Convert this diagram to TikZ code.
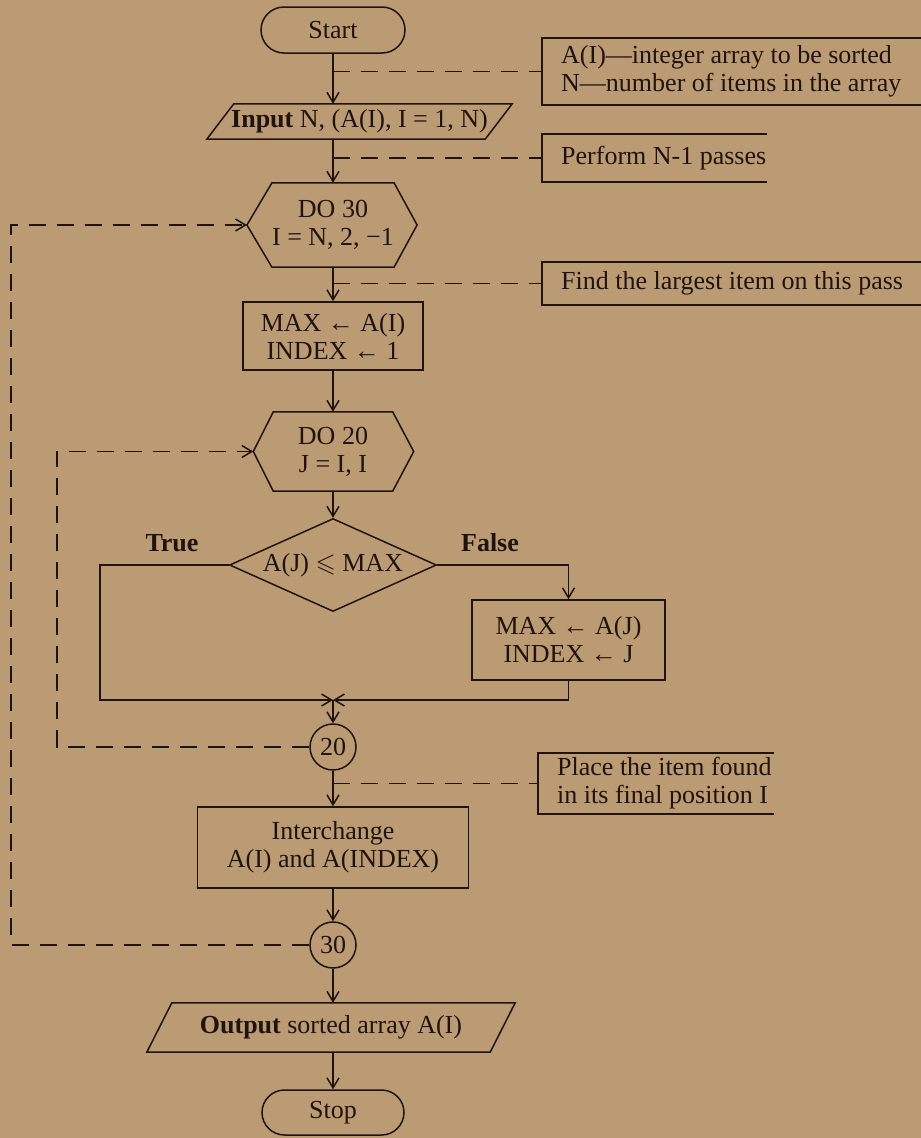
\documentclass[tikz,border=0pt]{standalone}
\usepackage{amssymb}
\usepackage{fontspec}
\setmainfont{Liberation Serif}
\usetikzlibrary{arrows.meta,shapes.misc,shapes.geometric}
\definecolor{paper}{RGB}{187,155,116}
\definecolor{ink}{RGB}{32,18,12}
\begin{document}
\begin{tikzpicture}[x=1pt,y=-1pt,
  every node/.style={font=\fontsize{26}{28}\selectfont, text=ink},
  inkline/.style={draw=ink, line width=1.5pt},
  flow/.style={inkline, -{Straight Barb[length=10pt,width=12pt]}},
  dsh/.style={draw=ink, line width=1.5pt, dash pattern=on 17pt off 11pt},
  dsharrow/.style={dsh, -{Straight Barb[length=10pt,width=12pt]}},
  term/.style={rounded rectangle, inkline, minimum width=144pt, minimum height=46pt, inner sep=0pt},
  proc/.style={rectangle, inkline, inner sep=0pt, align=center},
  plain/.style={rectangle, inner sep=0pt, align=center},
  conn/.style={circle, inkline, minimum size=46pt, inner sep=0pt},
  note/.style={rectangle, inner xsep=19pt, inner ysep=0pt, anchor=west, align=left},
  lbl/.style={font=\fontsize{26}{28}\selectfont\bfseries},
]
% page
\fill[paper] (0,0) rectangle (921,1138);
\useasboundingbox (0,0) rectangle (921,1138);

% main column
\node[term] (start) at (333,30) {Start};
\node[plain, minimum width=278pt, minimum height=35pt] (in) at (359.5,121.5) {\textbf{Input} N, (A(I), I = 1, N)};
\draw[inkline] ([xshift=13.5pt]in.north west) -- ([xshift=13.5pt]in.north east)
  -- ([xshift=-13.5pt]in.south east) -- ([xshift=-13.5pt]in.south west) -- cycle;

\node[plain, minimum width=115pt, minimum height=84pt] (do30) at (333,225) {DO 30\\I = N, 2, −1};
\draw[inkline] (do30.north west) -- (do30.north east) -- ([xshift=23pt]do30.east)
  -- (do30.south east) -- (do30.south west) -- ([xshift=-25pt]do30.west) -- cycle;
\coordinate (do30L) at ([xshift=-25pt]do30.west);

\node[proc, minimum width=180pt, minimum height=68pt] (max1) at (333,336) {MAX ← A(I)\\INDEX ← 1};

\node[plain, minimum width=119pt, minimum height=79pt] (do20) at (333,451.5) {DO 20\\J = I, I};
\draw[inkline] (do20.north west) -- (do20.north east) -- ([xshift=21pt]do20.east)
  -- (do20.south east) -- (do20.south west) -- ([xshift=-20pt]do20.west) -- cycle;
\coordinate (do20L) at ([xshift=-20pt]do20.west);

\node[diamond, inkline, aspect=2.2, inner sep=0pt, minimum width=207pt, minimum height=93pt] (test) at (333,565) {A(J) $\leqslant$ MAX};
\node[lbl] (tlab) at (172,543) {True};
\node[lbl] (flab) at (490,543) {False};

\node[proc, minimum width=193pt, minimum height=80pt] (max2) at (568.5,640) {MAX ← A(J)\\INDEX ← J};

\coordinate (jn) at (333,700);
\coordinate (tc) at (100,700);
\node[conn] (c20) at (333,747) {20};
\coordinate (in2) at (57,451.5);

\node[proc, minimum width=271pt, minimum height=81pt] (swap) at (333,847.5) {Interchange\\A(I) and A(INDEX)};
\node[conn] (c30) at (333,945) {30};
\coordinate (in1) at (11,225);

\node[plain, minimum width=343pt, minimum height=49pt] (out) at (331,1027.5) {\textbf{Output} sorted array A(I)};
\draw[inkline] ([xshift=12.5pt]out.north west) -- ([xshift=12.5pt]out.north east)
  -- ([xshift=-12.5pt]out.south east) -- ([xshift=-12.5pt]out.south west) -- cycle;

\node[term, minimum width=142pt, minimum height=45pt] (stop) at (333,1112.5) {Stop};

% comment brackets
\node[note, minimum height=67pt] (n1) at (542,71.5) {A(I)---integer array to be sorted\\N---number of items in the array};
\node[note, minimum height=48pt] (n2) at (542,158) {Perform N-1 passes};
\node[note, minimum height=43pt] (n3) at (542,283.5) {Find the largest item on this pass};
\node[note, minimum height=61pt] (n4) at (538,783.5) {Place the item found\\in its final position I};
\coordinate (e1) at (921,0);
\coordinate (e2) at (767,0);
\coordinate (e3) at (921,0);
\coordinate (e4) at (774,0);
\draw[inkline] (n1.north -| e1) -- (n1.north west) -- (n1.south west) -- (n1.south -| e1);
\draw[inkline] (n2.north -| e2) -- (n2.north west) -- (n2.south west) -- (n2.south -| e2);
\draw[inkline] (n3.north -| e3) -- (n3.north west) -- (n3.south west) -- (n3.south -| e3);
\draw[inkline] (n4.north -| e4) -- (n4.north west) -- (n4.south west) -- (n4.south -| e4);

\draw[dsh] (start.south |- n1.west) -- (n1.west);
\draw[dsh] (do30.north |- n2.west) -- (n2.west);
\draw[dsh] (max1.north |- n3.west) -- (n3.west);
\draw[dsh] (swap.north |- n4.west) -- (n4.west);

% flow lines
\draw[flow] (start.south) -- (start.south |- in.north);
\draw[flow] (in.south -| do30.north) -- (do30.north);
\draw[flow] (do30.south) -- (max1.north);
\draw[flow] (max1.south) -- (do20.north);
\draw[flow] (do20.south) -- (test.north);
\draw[flow] (test.west) -| (tc) -- (jn);
\draw[flow] (test.east) -| (max2.north);
\draw[flow] (max2.south) |- (jn);
\draw[flow] (jn) -- (c20.north);
\draw[flow] (c20.south) -- (swap.north);
\draw[flow] (swap.south) -- (c30.north);
\draw[flow] (c30.south) -- (c30.south |- out.north);
\draw[flow] (out.south -| stop.north) -- (stop.north);

% loop returns
\draw[dsharrow] (c20.west) -| (in2) -- (do20L);
\draw[dsharrow] (c30.west) -| (in1) -- (do30L);
\end{tikzpicture}
\end{document}
